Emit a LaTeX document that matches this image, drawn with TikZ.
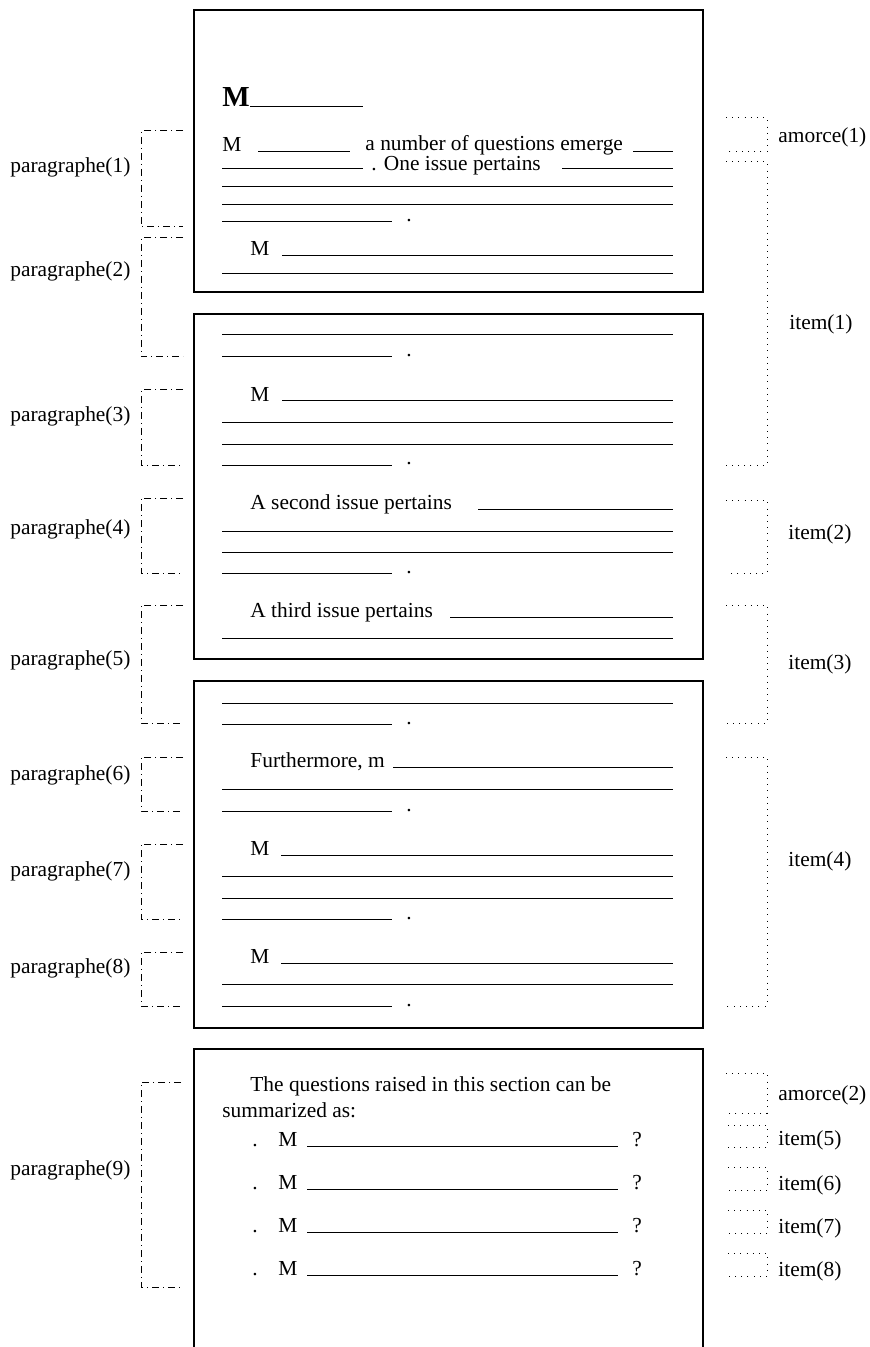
\documentclass[tikz,border=0pt]{standalone}
\usepackage{fontspec}
\setmainfont{Liberation Serif}
\usepackage{tikz}

\tikzset{
  pagebox/.style={line width=1pt},
  rule/.style={line width=0.5pt},
  parbrace/.style={line width=0.5pt, dash pattern=on 3.5pt off 2pt on 0.5pt off 2pt},
  itembrace/.style={line width=0.5pt, dash pattern=on 0.5pt off 2.6pt},
  txt/.style={inner sep=0pt, anchor=base west, font=\fontsize{10.7}{12}\selectfont},
  lbl/.style={inner sep=0pt, anchor=west, font=\fontsize{10.7}{12}\selectfont},
}

\begin{document}
\begin{tikzpicture}[x=0.5pt,y=-0.5pt]
    \useasboundingbox (0,0) rectangle (869,1347);
    % Page 1
    \draw[pagebox] (194,10) rectangle (703,292);
    \node[txt, font=\fontsize{14.5}{16}\selectfont\bfseries] (title) at (222,107) {M};
    \draw[rule] (250,107) -- (363,107);
    \node[txt] (m1) at (222,152) {M};
    \draw[rule] (258,152) -- (350,152);
    \node[txt] (emerge) at (365,150.5) {a number of questions emerge};
    \draw[rule] (633,152) -- (673,152);
    \draw[rule] (222,169) -- (363,169);
    \node[txt] (issue1) at (371,171) {. One issue pertains};
    \draw[rule] (562,169) -- (673,169);
    \draw[rule] (222,187) -- (673,187);
    \draw[rule] (222,205) -- (673,205);
    \draw[rule] (222,222) -- (392,222);
    \node[txt] (dot1) at (406,222) {.};
    \node[txt] (m2) at (250,256) {M};
    \draw[rule] (282,256) -- (673,256);
    \draw[rule] (222,274) -- (673,274);
    % Page 2
    \draw[pagebox] (194,314) rectangle (703,659);
    \draw[rule] (222,335) -- (673,335);
    \draw[rule] (222,357) -- (392,357);
    \node[txt] (dot2) at (406,357) {.};
    \node[txt] (m3) at (250,401) {M};
    \draw[rule] (282,401) -- (673,401);
    \draw[rule] (222,423) -- (673,423);
    \draw[rule] (222,444) -- (673,444);
    \draw[rule] (222,465) -- (392,465);
    \node[txt] (dot3) at (406,465) {.};
    \node[txt] (issue2) at (250,509) {A second issue pertains};
    \draw[rule] (478,509) -- (673,509);
    \draw[rule] (222,531) -- (673,531);
    \draw[rule] (222,552) -- (673,552);
    \draw[rule] (222,573) -- (392,573);
    \node[txt] (dot4) at (406,573) {.};
    \node[txt] (issue3) at (250,617) {A third issue pertains};
    \draw[rule] (450,617) -- (673,617);
    \draw[rule] (222,638) -- (673,638);
    % Page 3
    \draw[pagebox] (194,681) rectangle (703,1028);
    \draw[rule] (222,703) -- (673,703);
    \draw[rule] (222,724) -- (392,724);
    \node[txt] (dot5) at (406,724) {.};
    \node[txt] (further) at (250,767) {Furthermore, m};
    \draw[rule] (393,767) -- (673,767);
    \draw[rule] (222,789) -- (673,789);
    \draw[rule] (222,811) -- (392,811);
    \node[txt] (dot6) at (406,811) {.};
    \node[txt] (m4) at (250,855) {M};
    \draw[rule] (281,855) -- (673,855);
    \draw[rule] (222,876) -- (673,876);
    \draw[rule] (222,898) -- (673,898);
    \draw[rule] (222,919) -- (392,919);
    \node[txt] (dot7) at (406,919) {.};
    \node[txt] (m5) at (250,963) {M};
    \draw[rule] (281,963) -- (673,963);
    \draw[rule] (222,984) -- (673,984);
    \draw[rule] (222,1006) -- (392,1006);
    \node[txt] (dot8) at (406,1006) {.};
    % Page 4 (open at the bottom)
    \draw[pagebox] (194,1347) -- (194,1049) -- (703,1049) -- (703,1347);
    \node[txt] (summ1) at (250,1091) {The questions raised in this section can be};
    \node[txt] (summ2) at (222,1117) {summarized as:};
    \node[txt] (b1) at (252,1146) {.};
    \node[txt] (q1) at (278,1146) {M};
    \draw[rule] (307,1146) -- (618,1146);
    \node[txt] (e1) at (632,1146) {?};
    \node[txt] (b2) at (252,1189) {.};
    \node[txt] (q2) at (278,1189) {M};
    \draw[rule] (307,1189) -- (618,1189);
    \node[txt] (e2) at (632,1189) {?};
    \node[txt] (b3) at (252,1232) {.};
    \node[txt] (q3) at (278,1232) {M};
    \draw[rule] (307,1232) -- (618,1232);
    \node[txt] (e3) at (632,1232) {?};
    \node[txt] (b4) at (252,1275) {.};
    \node[txt] (q4) at (278,1275) {M};
    \draw[rule] (307,1275) -- (618,1275);
    \node[txt] (e4) at (632,1275) {?};
    % Paragraph brackets (left)
    \draw[parbrace] (183,131) -- (141,131) -- (141,227) -- (183,227);
    \node[lbl] (par1) at (10,167) {paragraphe(1)};
    \draw[parbrace] (183,238) -- (141,238) -- (141,357) -- (183,357);
    \node[lbl] (par2) at (10,271) {paragraphe(2)};
    \draw[parbrace] (183,390) -- (141,390) -- (141,465) -- (183,465);
    \node[lbl] (par3) at (10,416) {paragraphe(3)};
    \draw[parbrace] (183,498) -- (141,498) -- (141,573) -- (183,573);
    \node[lbl] (par4) at (10,529) {paragraphe(4)};
    \draw[parbrace] (183,605) -- (141,605) -- (141,723) -- (183,723);
    \node[lbl] (par5) at (10,660) {paragraphe(5)};
    \draw[parbrace] (183,757) -- (141,757) -- (141,811) -- (183,811);
    \node[lbl] (par6) at (10,775) {paragraphe(6)};
    \draw[parbrace] (183,844) -- (141,844) -- (141,919) -- (183,919);
    \node[lbl] (par7) at (10,871) {paragraphe(7)};
    \draw[parbrace] (183,952) -- (141,952) -- (141,1006) -- (183,1006);
    \node[lbl] (par8) at (10,968) {paragraphe(8)};
    \draw[parbrace] (181,1082) -- (141,1082) -- (141,1287) -- (181,1287);
    \node[lbl] (par9) at (10,1170) {paragraphe(9)};
    % Item brackets (right)
    \draw[itembrace] (726,118) -- (767,118) -- (767,152) -- (726,152);
    \node[lbl] (amorce1) at (778,137) {amorce(1)};
    \draw[itembrace] (726,162) -- (767,162) -- (767,465) -- (726,465);
    \node[lbl] (item1) at (789,324) {item(1)};
    \draw[itembrace] (726,500) -- (767,500) -- (767,573) -- (726,573);
    \node[lbl] (item2) at (788,534) {item(2)};
    \draw[itembrace] (726,605) -- (767,605) -- (767,723) -- (726,723);
    \node[lbl] (item3) at (788,664) {item(3)};
    \draw[itembrace] (726,757) -- (767,757) -- (767,1006) -- (726,1006);
    \node[lbl] (item4) at (788,861) {item(4)};
    \draw[itembrace] (726,1073) -- (767,1073) -- (767,1113) -- (728,1113);
    \node[lbl] (amorce2) at (778,1095) {amorce(2)};
    \draw[itembrace] (728,1125) -- (767,1125) -- (767,1147) -- (725,1147);
    \node[lbl] (item5) at (778,1140) {item(5)};
    \draw[itembrace] (728,1167) -- (767,1167) -- (767,1190) -- (725,1190);
    \node[lbl] (item6) at (778,1185) {item(6)};
    \draw[itembrace] (728,1210) -- (767,1210) -- (767,1233) -- (725,1233);
    \node[lbl] (item7) at (778,1228) {item(7)};
    \draw[itembrace] (728,1253) -- (767,1253) -- (767,1276) -- (725,1276);
    \node[lbl] (item8) at (778,1271) {item(8)};
  \end{tikzpicture}
\end{document}
